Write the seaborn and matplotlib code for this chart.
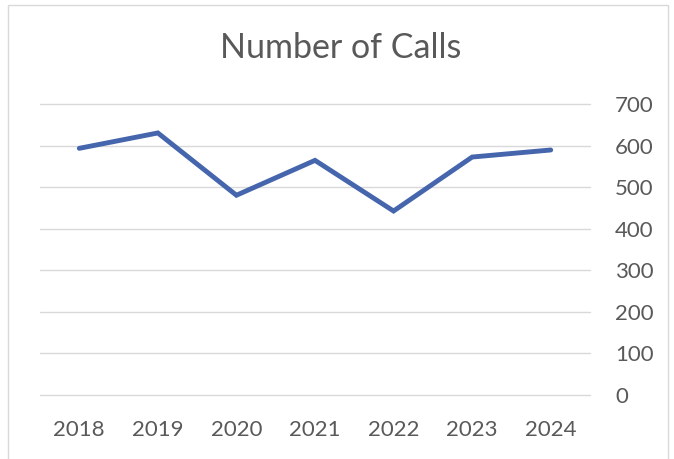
import matplotlib
matplotlib.use("Agg")
import matplotlib.pyplot as plt
import seaborn as sns
import pandas as pd
from matplotlib.patches import Rectangle

years = ["2018", "2019", "2020", "2021", "2022", "2023", "2024"]
calls = [594, 631, 481, 565, 443, 573, 590]
yticks = [0, 100, 200, 300, 400, 500, 600, 700]
title = "Number of Calls"

sns.set_theme(style="white")
plt.rcParams["font.family"] = ["Lato", "DejaVu Sans"]

df = pd.DataFrame({"Year": years, "Calls": calls})

fig = plt.figure(figsize=(6.74, 4.59), dpi=100)
fig.patch.set_facecolor("white")
# chart frame
fig.patches.append(Rectangle((8 / 674, -0.05), (668 - 8) / 674, 1 - 5 / 459 + 0.05,
                             transform=fig.transFigure, fill=False,
                             edgecolor="#D9D9D9", linewidth=1.0))

ax = fig.add_axes([40 / 674, 1 - 395 / 459, 550 / 674, (395 - 104.3) / 459])
sns.lineplot(data=df, x="Year", y="Calls", ax=ax, color="#4565AD",
             linewidth=3.5, sort=False, solid_capstyle="round", solid_joinstyle="miter")

ax.set_xlim(-0.5, len(years) - 0.5)
ax.set_ylim(0, 700)
ax.set_yticks(yticks)
ax.set_yticklabels([str(v) for v in yticks])
ax.yaxis.tick_right()
ax.grid(axis="y", color="#D9D9D9", linewidth=1.0)
ax.grid(axis="x", visible=False)
for gl in ax.get_ygridlines():
    gl.set_clip_on(False)
ax.set_axisbelow(True)
for s in ax.spines.values():
    s.set_visible(False)
ax.set_xlabel("")
ax.set_ylabel("")
ax.tick_params(axis="x", length=0, pad=18, labelsize=16, labelcolor="#595959")
ax.tick_params(axis="y", length=0, pad=18, labelsize=16, labelcolor="#595959",
               left=False, right=False, labelleft=False, labelright=True)

fig.text(341 / 674, 1 - 48 / 459, title, ha="center", va="center",
         fontsize=24.5, color="#595959")

fig.savefig("out.png", dpi=100, facecolor="white")
